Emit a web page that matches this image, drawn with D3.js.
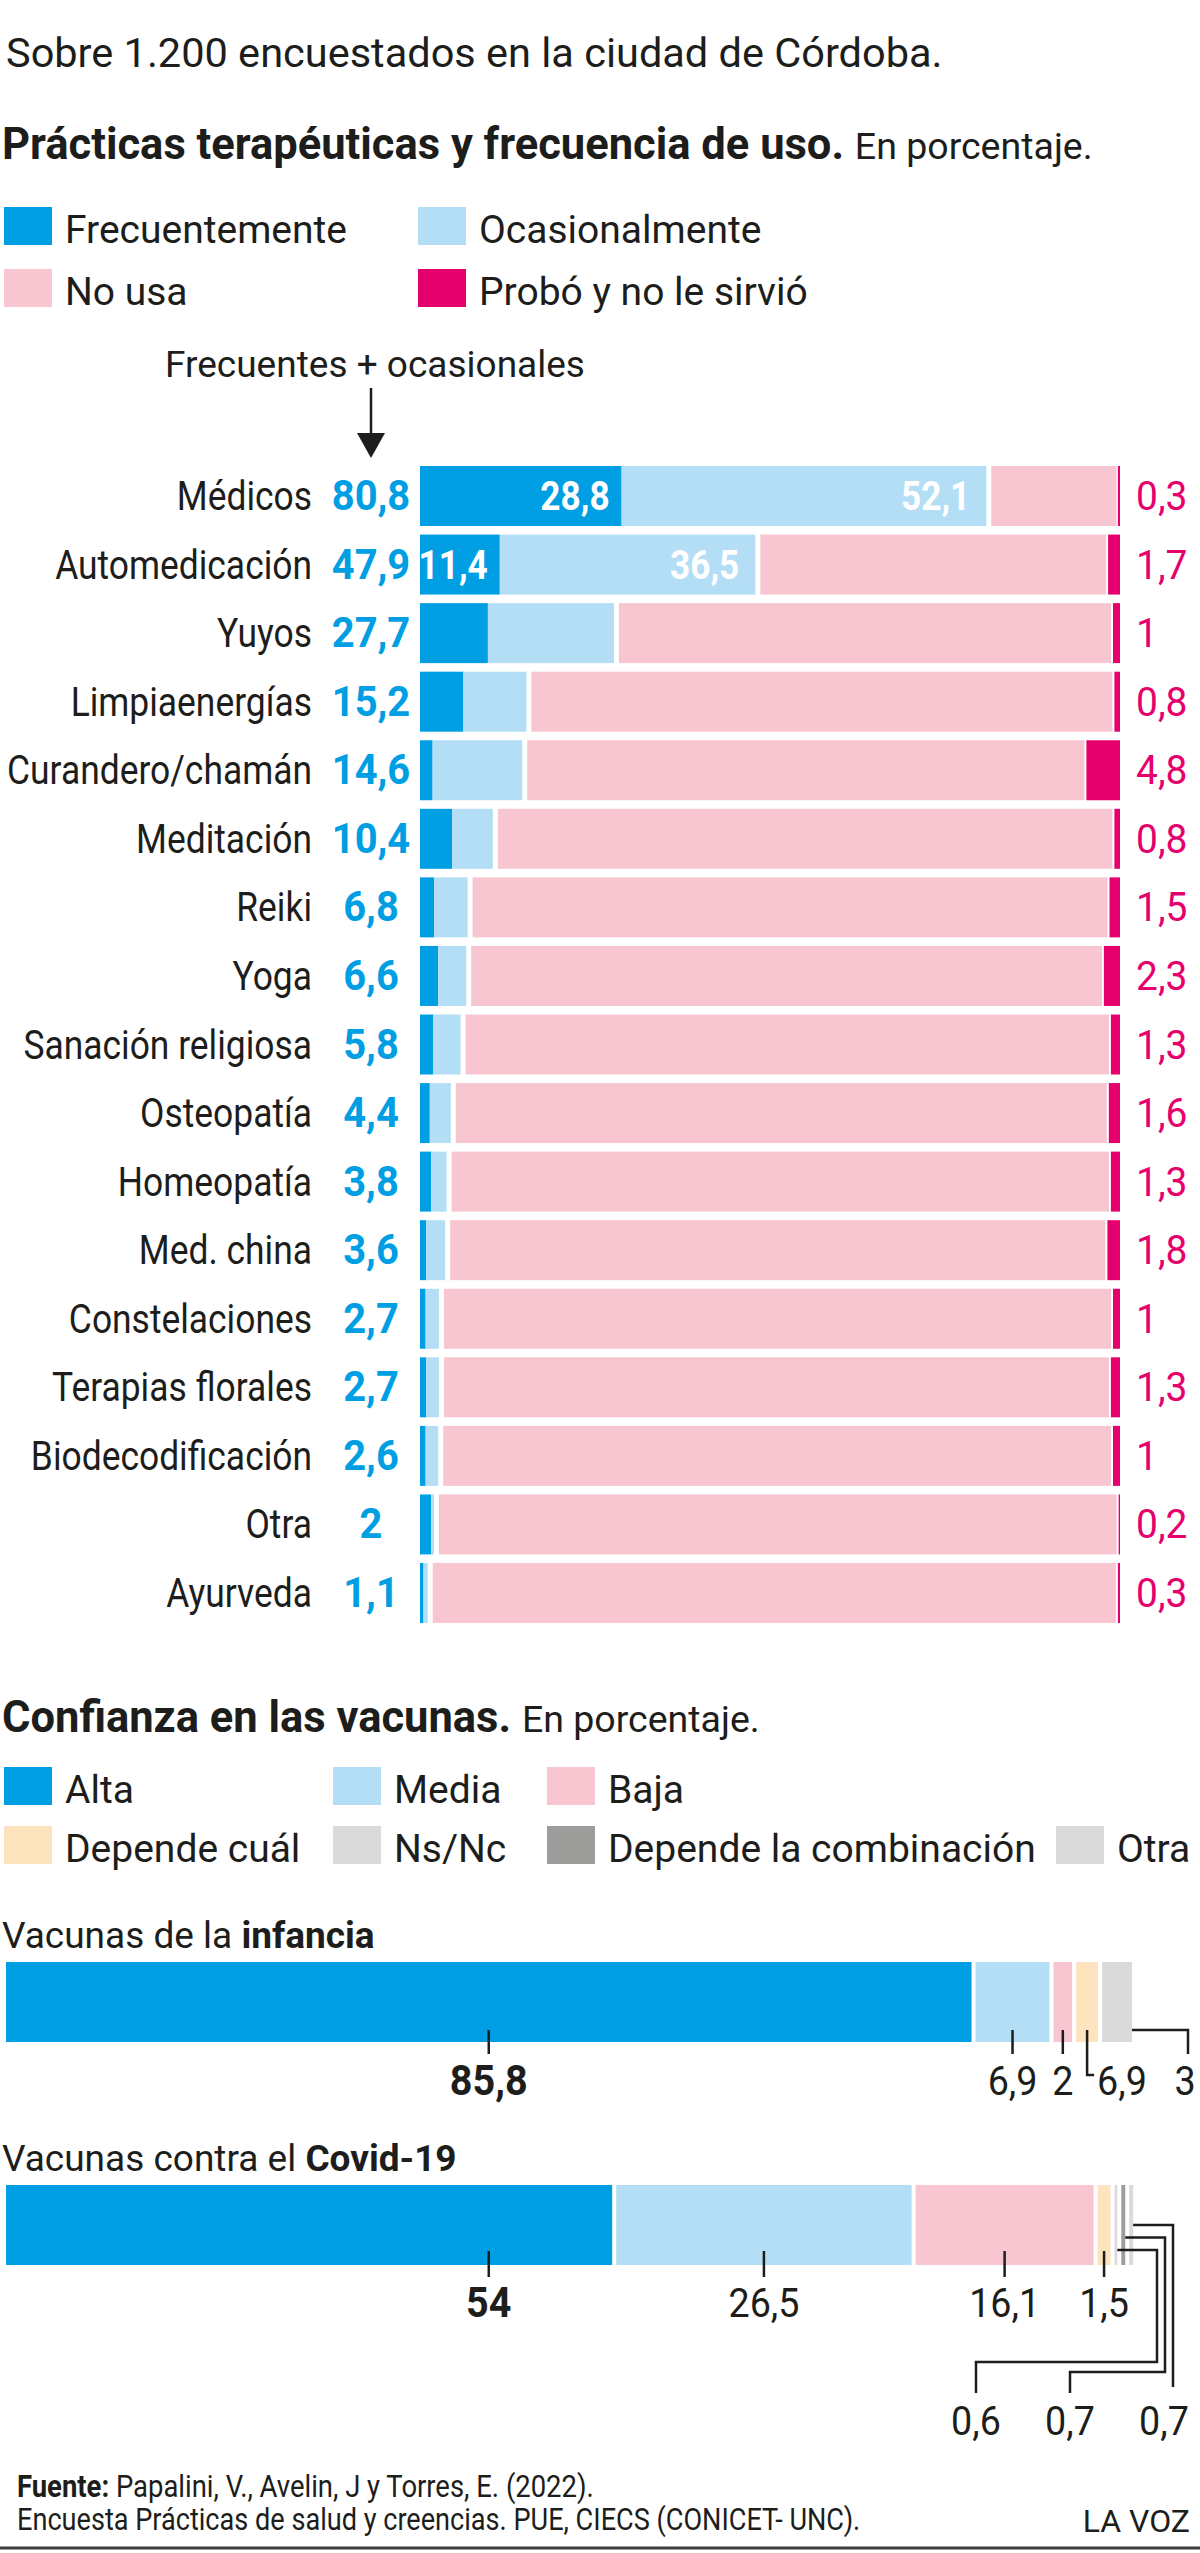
<!DOCTYPE html>
<html>
<head>
<meta charset="utf-8">
<script src="https://cdn.jsdelivr.net/npm/d3@7"></script>
<style>
  body { margin: 0; background: #fff; }
  svg { display: block; font-family: Roboto, "Noto Sans", sans-serif; }
</style>
</head>
<body>
<svg id="chart"></svg>
<script>
// Prácticas terapéuticas (porcentaje)
const practicas = ["Médicos", "Automedicación", "Yuyos", "Limpiaenergías", "Curandero/chamán",
    "Meditación", "Reiki", "Yoga", "Sanación religiosa", "Osteopatía", "Homeopatía",
    "Med. china", "Constelaciones", "Terapias florales", "Biodecodificación", "Otra", "Ayurveda"];
const frecuente  = [28.8, 11.4, 9.7, 6.2, 1.8, 4.6, 2.0, 2.6, 1.9, 1.4, 1.6, 0.9, 0.8, 0.9, 0.8, 1.6, 0.5];
const ocasional  = [52.1, 36.5, 18.0, 9.0, 12.8, 5.8, 4.8, 4.0, 3.9, 3.0, 2.2, 2.7, 1.9, 1.8, 1.8, 0.4, 0.6];
const combinados = [80.8, 47.9, 27.7, 15.2, 14.6, 10.4, 6.8, 6.6, 5.8, 4.4, 3.8, 3.6, 2.7, 2.7, 2.6, 2, 1.1];
const noUsa      = [18.9, 50.4, 71.3, 84.0, 80.6, 88.8, 91.7, 91.1, 92.9, 94.0, 94.9, 94.6, 96.3, 96.0, 96.4, 97.8, 98.6];
const probo      = [0.3, 1.7, 1, 0.8, 4.8, 0.8, 1.5, 2.3, 1.3, 1.6, 1.3, 1.8, 1, 1.3, 1, 0.2, 0.3];

// Confianza en las vacunas (porcentaje)
const vacunaCats = ["Alta", "Media", "Baja", "Depende cuál", "Ns/Nc", "Depende la combinación", "Otra"];
const infanciaCats   = ["Alta", "Media", "Baja", "Depende cuál", "Ns/Nc"];
const infanciaValues = [85.8, 6.9, 2, 2.3, 3];
const infanciaLabels = ["85,8", "6,9", "2", "6,9", "3"];
const covidCats   = ["Alta", "Media", "Baja", "Depende cuál", "Ns/Nc", "Depende la combinación", "Otra"];
const covidValues = [54, 26.5, 16.1, 1.5, 0.6, 0.7, 0.7];
const covidLabels = ["54", "26,5", "16,1", "1,5", "0,6", "0,7", "0,7"];

const W = 1200, H = 2553;
const C = {
    blue: "#009EE3", light: "#B3DEF6", pink: "#F7C6D0", mag: "#E5006D",
    peach: "#FDE4BE", grey: "#DADADA", dark: "#9D9D9C", ink: "#1D1D1B"
};
const vacColor = d3.scaleOrdinal()
    .domain(vacunaCats)
    .range([C.blue, C.light, C.pink, C.peach, C.grey, C.dark, C.grey]);

const fmt = v => d3.format(".1f")(v).replace(/\.0$/, "").replace(".", ",");

const svg = d3.select("#chart").attr("width", W).attr("height", H);

// text helper; sx squeezes the glyphs horizontally (the original uses a condensed face)
function text(g, x, y, str, size, opts = {}) {
    const t = g.append("text")
        .attr("font-size", size)
        .attr("font-weight", opts.bold ? 700 : 400)
        .attr("text-anchor", opts.anchor || "start")
        .attr("fill", opts.fill || C.ink)
        .text(str);
    if (opts.sx) t.attr("transform", `translate(${x},${y}) scale(${opts.sx},1)`);
    else t.attr("x", x).attr("y", y);
    return t;
}

function mixed(g, x, y, parts, sx = 1) {
    const t = g.append("text")
        .attr("transform", `translate(${x},${y}) scale(${sx},1)`)
        .attr("fill", C.ink);
    parts.forEach(p => t.append("tspan")
        .attr("font-size", p.size)
        .attr("font-weight", p.bold ? 700 : 400)
        .text(p.t));
    return t;
}

function legend(g, items, colX, rowY) {
    items.forEach(d => {
        g.append("rect")
            .attr("x", colX[d.col]).attr("y", rowY[d.row])
            .attr("width", 48).attr("height", 38)
            .attr("fill", d.color);
        text(g, colX[d.col] + 61, rowY[d.row] + 36, d.name, 39);
    });
}

// ---- header
text(svg, 6, 67, "Sobre 1.200 encuestados en la ciudad de Córdoba.", 41.5);
mixed(svg, 2, 159, [
    {t: "Prácticas terapéuticas y frecuencia de uso. ", bold: true, size: 43.5},
    {t: "En porcentaje.", size: 37.5}
]);

legend(svg, [
    {name: "Frecuentemente", color: C.blue, col: 0, row: 0},
    {name: "Ocasionalmente", color: C.light, col: 1, row: 0},
    {name: "No usa", color: C.pink, col: 0, row: 1},
    {name: "Probó y no le sirvió", color: C.mag, col: 1, row: 1}
], [4, 418], [207, 269]);

// ---- practicas chart
const x1 = d3.scaleLinear().domain([0, 100]).range([420, 1120]);
const y1 = d3.scaleBand().domain(practicas).range([466, 1623]).paddingInner(0.125);
const valueX = 371;

const rows = practicas.map((name, i) => ({
    name, f: frecuente[i], o: ocasional[i], n: noUsa[i], p: probo[i], total: combinados[i]
}));

// annotation + arrow
text(svg, valueX + 4, 377, "Frecuentes + ocasionales", 37, {anchor: "middle"});
svg.append("line")
    .attr("x1", valueX).attr("x2", valueX)
    .attr("y1", 388).attr("y2", 436)
    .attr("stroke", C.ink).attr("stroke-width", 2.5);
svg.append("path")
    .attr("d", `M${valueX - 14},433 L${valueX + 14},433 L${valueX},458 Z`)
    .attr("fill", C.ink);

const rowG = svg.append("g").selectAll("g")
    .data(rows)
    .join("g")
    .attr("transform", d => `translate(0,${y1(d.name)})`);

const bh = y1.bandwidth();

rowG.append("rect")
    .attr("x", x1(0))
    .attr("width", d => x1(d.f) - x1(0))
    .attr("height", bh).attr("fill", C.blue);

rowG.append("rect")
    .attr("x", d => x1(d.f))
    .attr("width", d => x1(d.f + d.o) - x1(d.f))
    .attr("height", bh).attr("fill", C.light);

rowG.append("rect")
    .attr("x", d => x1(d.f + d.o) + 5)
    .attr("width", d => x1(d.f + d.o + d.n) - x1(d.f + d.o) - 7)
    .attr("height", bh).attr("fill", C.pink);

rowG.append("rect")
    .attr("x", d => x1(100 - d.p))
    .attr("width", d => x1(100) - x1(100 - d.p))
    .attr("height", bh).attr("fill", C.mag);

const baseOff = bh / 2 + 14;

rowG.append("text")
    .attr("transform", `translate(312,${baseOff}) scale(0.885,1)`)
    .attr("text-anchor", "end")
    .attr("font-size", 40).attr("fill", C.ink)
    .text(d => d.name);

rowG.append("text")
    .attr("transform", `translate(${valueX},${baseOff}) scale(0.95,1)`)
    .attr("text-anchor", "middle")
    .attr("font-size", 42).attr("font-weight", 700).attr("fill", C.blue)
    .text(d => fmt(d.total));

rowG.append("text")
    .attr("transform", `translate(1136,${baseOff}) scale(0.95,1)`)
    .attr("font-size", 41).attr("fill", C.mag)
    .text(d => fmt(d.p));

// values inside the widest bars
const inner = rowG.filter(d => d.total > 40);
inner.append("text")
    .attr("transform", d => `translate(${x1(d.f) - 12},${baseOff}) scale(0.86,1)`)
    .attr("text-anchor", "end")
    .attr("font-size", 41).attr("font-weight", 700).attr("fill", "#fff")
    .text(d => fmt(d.f));
inner.append("text")
    .attr("transform", d => `translate(${x1(d.f + d.o) - 16},${baseOff}) scale(0.86,1)`)
    .attr("text-anchor", "end")
    .attr("font-size", 41).attr("font-weight", 700).attr("fill", "#fff")
    .text(d => fmt(d.o));

// ---- vacunas
mixed(svg, 2, 1732, [
    {t: "Confianza en las vacunas. ", bold: true, size: 43.5},
    {t: "En porcentaje.", size: 37.5}
]);

legend(svg, vacunaCats.map((name, i) => ({
    name, color: vacColor(name),
    row: i < 3 ? 0 : 1,
    col: i < 3 ? i : i - 3
})), [4, 333, 547, 1056], [1767, 1826]);

const xv = d3.scaleLinear().domain([0, 100]).range([6, 1136]);
const barH = 80, gap = 4;

function stack(cats, values, labels) {
    let acc = 0;
    return cats.map((c, i) => {
        const s = acc;
        acc += values[i];
        return {cat: c, v: values[i], label: labels[i], x0: xv(s), x1: xv(acc) - gap, i};
    });
}

function drawBar(top, segs) {
    const g = svg.append("g");
    g.selectAll("rect")
        .data(segs)
        .join("rect")
        .attr("x", d => d.x0)
        .attr("y", top)
        .attr("width", d => Math.max(1.5, d.x1 - d.x0))
        .attr("height", barH)
        .attr("fill", d => vacColor(d.cat));
    return g;
}

function leader(g, d) {
    return g.append("path").attr("d", d)
        .attr("fill", "none").attr("stroke", C.ink).attr("stroke-width", 2.5);
}

// Vacunas de la infancia
mixed(svg, 2, 1948, [{t: "Vacunas de la ", size: 37}, {t: "infancia", bold: true, size: 37}]);
const infTop = 1962, infBot = infTop + barH;
const infSegs = stack(infanciaCats, infanciaValues, infanciaLabels);
const infG = drawBar(infTop, infSegs);
const firstCenter = (infSegs[0].x0 + infSegs[0].x1) / 2;

infSegs.forEach(d => {
    const cx = (d.x0 + d.x1) / 2;
    if (d.i < 3) {
        leader(infG, `M${cx},${infBot - 12}V${infBot + 12}`);
        text(infG, cx, infBot + 53, d.label, d.i === 0 ? 43 : 41,
            {anchor: "middle", bold: d.i === 0, sx: 0.92});
    } else if (d.i === 3) {
        leader(infG, `M${cx},${infBot - 12}V${infBot + 33}H${cx + 7}`);
        text(infG, cx + 10, infBot + 53, d.label, 41, {sx: 0.92});
    } else {
        leader(infG, `M${d.x1},${infBot - 12}H${d.x1 + 56}V${infBot + 12}`);
        text(infG, d.x1 + 53, infBot + 53, d.label, 41, {anchor: "middle", sx: 0.92});
    }
});

// Vacunas contra el Covid-19
mixed(svg, 2, 2171, [{t: "Vacunas contra el ", size: 37}, {t: "Covid-19", bold: true, size: 37}]);
const covTop = 2185, covBot = covTop + barH;
const covSegs = stack(covidCats, covidValues, covidLabels);
const covG = drawBar(covTop, covSegs);
const last = covSegs.length - 1;

covSegs.forEach(d => {
    const cx = d.i === 0 ? firstCenter : (d.x0 + d.x1) / 2;
    if (d.i < 4) {
        leader(covG, `M${cx},${covBot - 14}V${covBot + 12}`);
        text(covG, cx, covBot + 52, d.label, d.i === 0 ? 43 : 41,
            {anchor: "middle", bold: d.i === 0, sx: 0.92});
    } else {
        const k = last - d.i;
        const hy = covTop + 40 + 12.5 * k;
        const rx = 1173 - 8 * k;
        const lx = 1164 - 94 * k;
        const sx = d.x0 + Math.max(1.5, d.x1 - d.x0);
        if (k === 0) {
            leader(covG, `M${sx},${hy}H${rx}V2387`);
        } else {
            leader(covG, `M${sx},${hy}H${rx}V${2372 - 10 * (k - 1)}H${lx}V2393`);
        }
        text(covG, lx, 2435, d.label, 41, {anchor: "middle", sx: 0.92});
    }
});

// ---- footer
mixed(svg, 17, 2497, [
    {t: "Fuente: ", bold: true, size: 31},
    {t: "Papalini, V., Avelin, J y Torres, E. (2022).", size: 31}
], 0.885);
text(svg, 17, 2530, "Encuesta Prácticas de salud y creencias. PUE, CIECS (CONICET- UNC).", 31, {sx: 0.875});
text(svg, 1190, 2532, "LA VOZ", 32, {anchor: "end"});
svg.append("line")
    .attr("x1", 0).attr("x2", W)
    .attr("y1", 2548).attr("y2", 2548)
    .attr("stroke", "#3C3C3B").attr("stroke-width", 3);
</script>
</body>
</html>
